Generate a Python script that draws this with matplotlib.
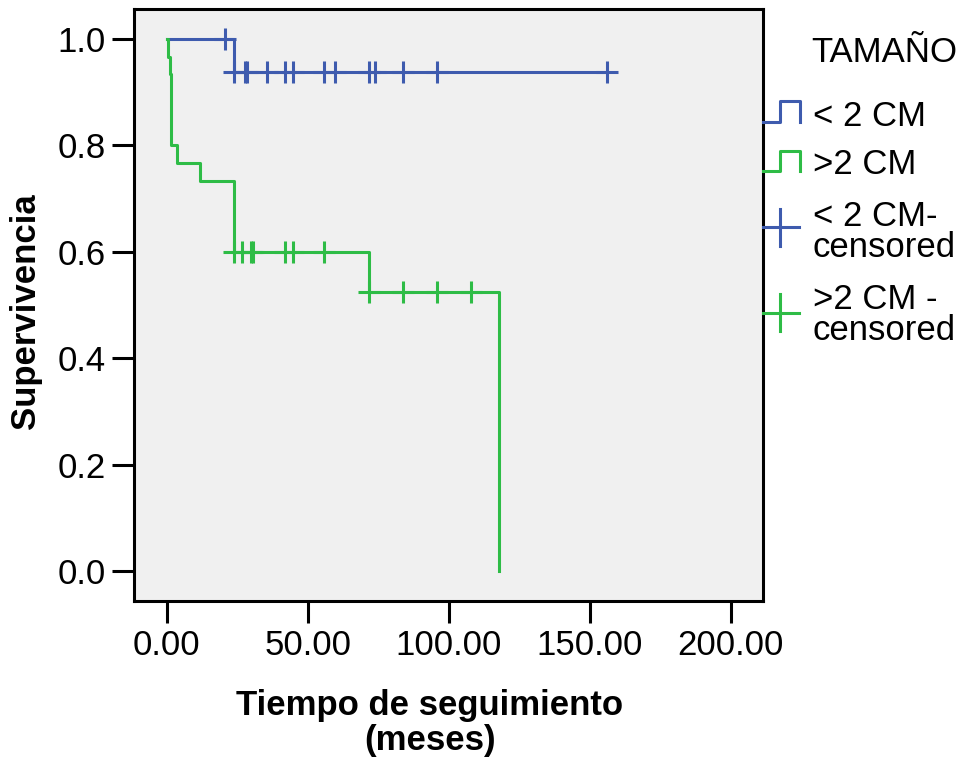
import numpy as np
import matplotlib
matplotlib.use("Agg")
import matplotlib.pyplot as plt
import matplotlib.transforms as mtransforms
from matplotlib.lines import Line2D

plt.rcParams['font.family'] = ['Liberation Sans', 'DejaVu Sans']

# Kaplan-Meier estimates by tumour size (months of follow-up)
small_event_t = [0.0, 23.8, 156.0]
small_surv = [1.0, 0.9375, 0.9375]
small_cens_t = [20.7, 23.8, 27.8, 28.6, 35.7, 41.9, 44.9, 55.9, 59.7,
                71.8, 73.9, 83.9, 95.7, 156.0]

large_event_t = [0.0, 0.3, 1.2, 1.6, 3.8, 11.7, 23.9, 71.8, 117.9]
large_surv = [1.0, 0.9667, 0.9333, 0.8, 0.7667, 0.7333, 0.6, 0.525, 0.0]
large_cens_t = [23.9, 26.8, 29.8, 30.7, 41.9, 44.9, 55.9,
                71.8, 83.9, 95.7, 107.8]

x_ticks = [0, 50, 100, 150, 200]
y_ticks = [0.0, 0.2, 0.4, 0.6, 0.8, 1.0]

BLUE = '#3E5BAE'
GREEN = '#2EBC46'
FS = 25
W, H = 969, 767


def surv_at(times, surv, t):
    # value of the step function just after t
    idx = np.searchsorted(times, t, side='right') - 1
    return np.asarray(surv)[idx]


fig = plt.figure(figsize=(W / 100, H / 100), dpi=100)
ax = fig.add_axes([134.3 / W, 1 - 601 / H, 628.4 / W, 592 / H])
ax.set_facecolor('#F0F0F0')

ax.step(small_event_t, small_surv, where='post', color=BLUE, lw=2.2)
ax.step(large_event_t, large_surv, where='post', color=GREEN, lw=2.2)
ax.plot(small_cens_t, surv_at(small_event_t, small_surv, small_cens_t),
        '+', color=BLUE, ms=16, mew=2.2)
ax.plot(large_cens_t, surv_at(large_event_t, large_surv, large_cens_t),
        '+', color=GREEN, ms=16, mew=2.2)

ax.set_xlim(-11.5, 211.3)
ax.set_ylim(-0.056, 1.056)
ax.set_xticks(x_ticks)
ax.set_xticklabels(['%.2f' % v for v in x_ticks])
ax.set_yticks(y_ticks)
ax.set_yticklabels(['%.1f' % v for v in y_ticks])
ax.tick_params(length=16, width=2.2, labelsize=FS, pad=4.5)
for sp in ax.spines.values():
    sp.set_linewidth(2.2)

ax.set_ylabel('Supervivencia', fontsize=FS, fontweight='bold')
ax.yaxis.set_label_coords(-0.147, 0.49)
ax.set_xlabel('Tiempo de seguimiento\n(meses)', fontsize=FS,
              fontweight='bold', linespacing=1.1)
ax.xaxis.set_label_coords(0.47, -0.148)

# legend drawn in pixel coordinates to the right of the plot
tr = mtransforms.Affine2D().scale(1 / W, -1 / H).translate(0, 1) + fig.transFigure


def step_icon(color, y_low, y_high):
    fig.add_artist(Line2D([763, 780, 780, 800, 800],
                          [y_low, y_low, y_high, y_high, y_low],
                          transform=tr, color=color, lw=2.2))


def plus_icon(color, yc):
    fig.add_artist(Line2D([763, 799], [yc, yc], transform=tr, color=color, lw=2.2))
    fig.add_artist(Line2D([780, 780], [yc - 18.5, yc + 18.5], transform=tr,
                          color=color, lw=2.2))


fig.text(811, 62, 'TAMAÑO', transform=tr, fontsize=FS, va='baseline')
step_icon(BLUE, 121.7, 101)
fig.text(813, 126, '< 2 CM', transform=tr, fontsize=FS, va='baseline')
step_icon(GREEN, 170.7, 150.7)
fig.text(813, 174.3, '>2 CM', transform=tr, fontsize=FS, va='baseline')
plus_icon(BLUE, 227.3)
fig.text(813, 226, '< 2 CM-', transform=tr, fontsize=FS, va='baseline')
fig.text(813, 256.7, 'censored', transform=tr, fontsize=FS, va='baseline')
plus_icon(GREEN, 312.7)
fig.text(813, 309.3, '>2 CM -', transform=tr, fontsize=FS, va='baseline')
fig.text(813, 340, 'censored', transform=tr, fontsize=FS, va='baseline')

fig.savefig('out.png', dpi=100)
